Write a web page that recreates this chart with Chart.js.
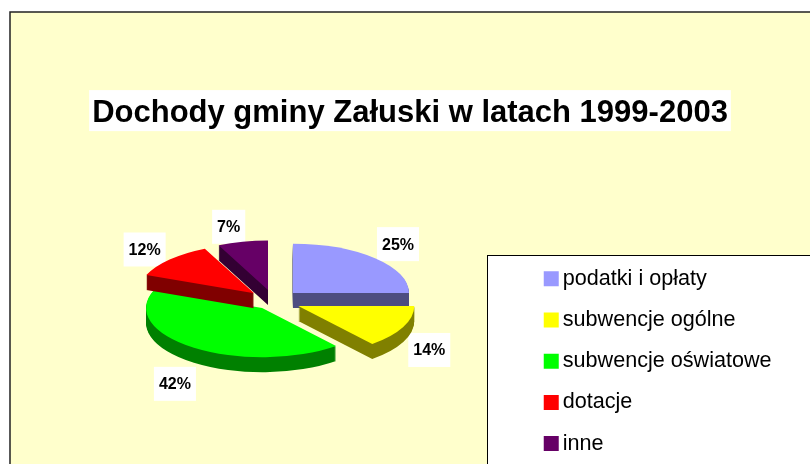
<!DOCTYPE html>
<html lang="pl">
<head>
<meta charset="utf-8">
<title>Dochody gminy Załuski</title>
<script src="https://cdn.jsdelivr.net/npm/chart.js@4/dist/chart.umd.min.js"></script>
<style>
  html, body { margin: 0; padding: 0; background: #fff; overflow: hidden; }
  canvas { display: block; }
</style>
</head>
<body>
<canvas id="dochodyChart" width="810" height="464"></canvas>
<script>
const TITLE = "Dochody gminy Załuski w latach 1999-2003";
const LABELS = ["podatki i opłaty", "subwencje ogólne", "subwencje oświatowe", "dotacje", "inne"];
const VALUES = [25, 14, 42, 12, 7];

const COLORS = ["#9999FF", "#FFFF00", "#00FF00", "#FF0000", "#660066"];
const SIDE_COLORS = ["#4D4D80", "#808000", "#008000", "#800000", "#330033"];

const FONT = "'Liberation Sans', Arial, sans-serif";
const PIE_RADIUS = 116;
const TILT = 0.425;
const DEPTH = 15;
const EXPLODE = [27, 27, 20, 27, 27];
const PIE_SHIFT_X = -10.8;
const PIE_SHIFT_Y = -2;
// przesuniecie etykiet od brzegu wycinka
const LABEL_NUDGE = [[23, -14], [26, 23], [-19, 36], [-25, -10], [-14, -15]];

function midAngle(arc) {
  return (arc.startAngle + arc.endAngle) / 2;
}

function labelPos(arc, i) {
  const a = midAngle(arc);
  const r = EXPLODE[i] + arc.outerRadius;
  return {
    x: arc.x + PIE_SHIFT_X + Math.cos(a) * r + LABEL_NUDGE[i][0],
    y: arc.y + PIE_SHIFT_Y + Math.sin(a) * r * TILT + LABEL_NUDGE[i][1],
  };
}

// rama wykresu, tlo legendy i tlo tytulu
const backgroundPlugin = {
  id: "background",
  beforeDraw(chart) {
    const ctx = chart.ctx;
    ctx.save();
    ctx.fillStyle = "#FFFFCC";
    ctx.fillRect(10, 12, 800, 452);
    ctx.strokeStyle = "#222";
    ctx.lineWidth = 1.5;
    ctx.strokeRect(10, 12, 820, 480);

    ctx.fillStyle = "#fff";
    ctx.fillRect(487.5, 255.5, 340, 230);
    ctx.strokeStyle = "#000";
    ctx.lineWidth = 1;
    ctx.strokeRect(487.5, 255.5, 340, 230);

    const t = chart.options.plugins.title;
    const block = chart.titleBlock;
    const size = t.font.size;
    ctx.font = `bold ${size}px ${FONT}`;
    const w = ctx.measureText(TITLE).width + 6;
    const cy = block.top + t.padding.top + size * 0.6 - 3;
    ctx.fillStyle = "#fff";
    ctx.fillRect((block.left + block.right - w) / 2, cy - 20.5, w, 41);
    ctx.restore();
  },
};

// plaski wykres kolowy rysowany jako pochylony, z bokiem i rozsunietymi wycinkami
const pie3dPlugin = {
  id: "pie3d",
  beforeDatasetDraw(chart, args) {
    const ctx = chart.ctx;
    const arcs = args.meta.data;

    // biale tla etykiet leza pod wycinkami
    ctx.save();
    ctx.font = `bold 16px ${FONT}`;
    ctx.fillStyle = "#fff";
    arcs.forEach((arc, i) => {
      const { x, y } = labelPos(arc, i);
      const w = ctx.measureText(`${VALUES[i]}%`).width + 10;
      ctx.fillRect(x - w / 2, y - 17, w, 34);
    });
    ctx.restore();

    arcs.forEach((arc, i) => {
      const opts = arc.options;
      const a = midAngle(arc);
      for (let j = DEPTH; j >= 0; j--) {
        arc.options = { ...opts, backgroundColor: j > 0 ? SIDE_COLORS[i] : COLORS[i] };
        ctx.save();
        ctx.translate(arc.x + PIE_SHIFT_X, arc.y + PIE_SHIFT_Y + j);
        ctx.scale(1, TILT);
        ctx.translate(-arc.x + Math.cos(a) * EXPLODE[i], -arc.y + Math.sin(a) * EXPLODE[i]);
        arc.draw(ctx);
        ctx.restore();
      }
      arc.options = opts;
    });
    return false;
  },
  afterDatasetsDraw(chart) {
    const ctx = chart.ctx;
    const arcs = chart.getDatasetMeta(0).data;
    ctx.save();
    ctx.font = `bold 16px ${FONT}`;
    ctx.textAlign = "center";
    ctx.textBaseline = "middle";
    ctx.fillStyle = "#000";
    arcs.forEach((arc, i) => {
      const { x, y } = labelPos(arc, i);
      ctx.fillText(`${VALUES[i]}%`, x, y + 1);
    });
    ctx.restore();
  },
};

const config = {
  type: "pie",
  data: {
    labels: LABELS,
    datasets: [
      {
        data: VALUES,
        backgroundColor: COLORS,
        borderWidth: 0,
        radius: PIE_RADIUS,
      },
    ],
  },
  options: {
    responsive: false,
    animation: false,
    events: [],
    layout: { padding: { left: 38.4, right: 28.4, top: 0, bottom: -10 } },
    plugins: {
      tooltip: { enabled: false },
      title: {
        display: true,
        text: TITLE,
        color: "#000",
        font: { family: FONT, size: 31, weight: "bold" },
        padding: { top: 95, bottom: 10 },
      },
      legend: {
        position: "right",
        align: "end",
        labels: {
          color: "#000",
          font: { family: FONT, size: 21.6 },
          padding: 19.6,
          // gruby obrys daje kwadrat 15px, a tekst blizej kwadratu
          boxWidth: 1.4,
          boxHeight: 1.4,
          generateLabels: () =>
            LABELS.map((text, i) => ({
              text,
              fillStyle: COLORS[i],
              strokeStyle: COLORS[i],
              lineWidth: 13.6,
              index: i,
            })),
        },
      },
    },
  },
  plugins: [backgroundPlugin, pie3dPlugin],
};

const ctx = document.getElementById("dochodyChart").getContext("2d");

new Chart(ctx, config);
</script>
</body>
</html>
